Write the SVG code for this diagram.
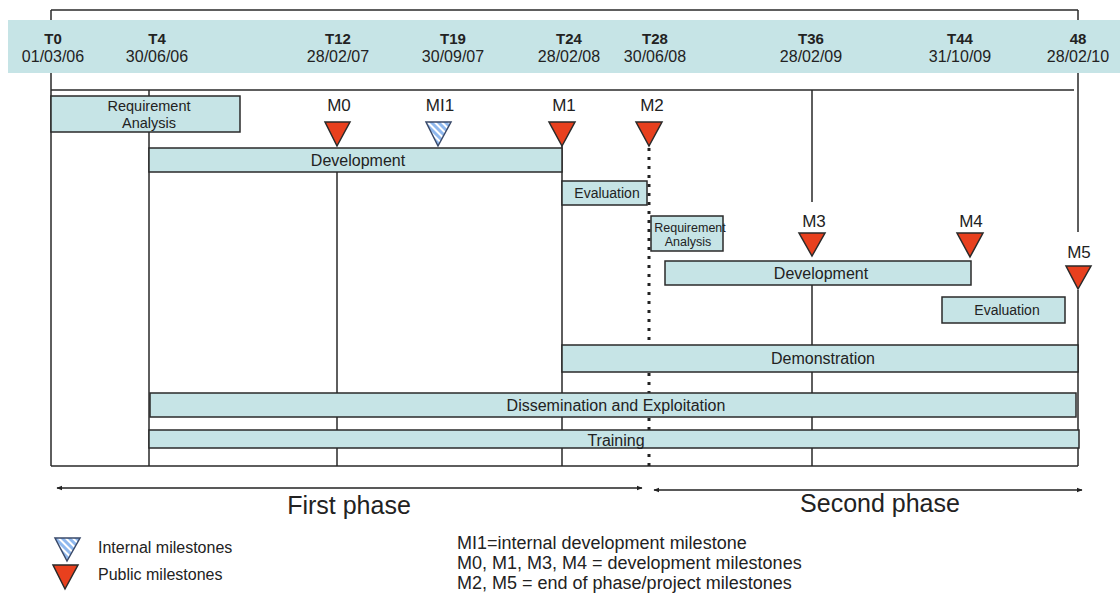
<svg xmlns="http://www.w3.org/2000/svg" width="1120" height="594" viewBox="0 0 1120 594">
<style>
text{font-family:"Liberation Sans",Arial,sans-serif;fill:#222}
.tl{font-size:15px;font-weight:bold;text-anchor:middle}
.dt{font-size:16px;text-anchor:middle}
.bar{fill:#c6e4e6;stroke:#2a2a2a;stroke-width:1.5}
.bl{font-size:16px;text-anchor:middle}
.grid{stroke:#2a2a2a;stroke-width:1.5;fill:none}
.ms{fill:#e8401e;stroke:#2a2a2a;stroke-width:1.5}
.msi{fill:url(#hatch);stroke:#3a4a6a;stroke-width:1.5}
.ml{font-size:17px;text-anchor:middle}
.ph{font-size:25px;text-anchor:middle}
.lg{font-size:16px}
.lg2{font-size:18px}
</style>
<defs>
<pattern id="hatch" width="5" height="5" patternUnits="userSpaceOnUse" patternTransform="rotate(-45)">
<rect width="5" height="5" fill="#8fb8ee"/>
<rect width="2" height="5" fill="#ffffff"/>
</pattern>
<marker id="ah" viewBox="0 0 10 10" refX="9" refY="5" markerWidth="6" markerHeight="6" orient="auto-start-reverse" markerUnits="userSpaceOnUse">
<path d="M0,1 L10,5 L0,9 z" fill="#222"/>
</marker>
</defs>

<g id="grid">
<path class="grid" d="M51,10 H1078 M51,10 V466 M1078,10 V232 M1078,290 V466 M51,466 H1078 M51,90 H1074 M149,90 V466 M337,172 V466 M562,146 V466 M812,90 V202 M812,285 V466"/>
<line x1="649" y1="148" x2="649" y2="466" stroke="#222" stroke-width="3" stroke-dasharray="3,6"/>
</g>

<g id="timeline">
<rect x="8" y="20" width="1112" height="53" fill="#c6e4e6"/>
<text class="tl" x="53" y="44">T0</text><text class="dt" x="53" y="62">01/03/06</text>
<text class="tl" x="157" y="44">T4</text><text class="dt" x="157" y="62">30/06/06</text>
<text class="tl" x="338" y="44">T12</text><text class="dt" x="338" y="62">28/02/07</text>
<text class="tl" x="453" y="44">T19</text><text class="dt" x="453" y="62">30/09/07</text>
<text class="tl" x="569" y="44">T24</text><text class="dt" x="569" y="62">28/02/08</text>
<text class="tl" x="655" y="44">T28</text><text class="dt" x="655" y="62">30/06/08</text>
<text class="tl" x="811" y="44">T36</text><text class="dt" x="811" y="62">28/02/09</text>
<text class="tl" x="960" y="44">T44</text><text class="dt" x="960" y="62">31/10/09</text>
<text class="tl" x="1078" y="44">48</text><text class="dt" x="1078" y="62">28/02/10</text>
</g>

<g id="req1"><rect class="bar" x="51" y="96" width="189" height="36"/>
<text class="bl" x="149" y="111" style="font-size:14.5px">Requirement</text><text class="bl" x="149" y="128" style="font-size:14.5px">Analysis</text></g>
<g id="dev1"><rect class="bar" x="149" y="148" width="413" height="24"/><text class="bl" x="358" y="166">Development</text></g>
<g id="eval1"><rect class="bar" x="562" y="181" width="85" height="24"/><text class="bl" x="607" y="198" style="font-size:14px">Evaluation</text></g>
<g id="req2"><rect class="bar" x="651" y="216" width="72" height="35"/>
<text class="bl" x="690" y="232" style="font-size:12.5px">Requirement</text><text class="bl" x="688" y="246" style="font-size:12.5px">Analysis</text></g>
<g id="dev2"><rect class="bar" x="665" y="261" width="306" height="24"/><text class="bl" x="821" y="279">Development</text></g>
<g id="eval2"><rect class="bar" x="942" y="297" width="123" height="26"/><text class="bl" x="1007" y="315" style="font-size:14px">Evaluation</text></g>
<g id="demo"><rect class="bar" x="562" y="345" width="516" height="27"/><text class="bl" x="823" y="364">Demonstration</text></g>
<g id="diss"><rect class="bar" x="150" y="393" width="926" height="24"/><text class="bl" x="616" y="411">Dissemination and Exploitation</text></g>
<g id="train"><rect class="bar" x="149" y="430" width="930" height="18"/><text class="bl" x="616" y="446">Training</text></g>

<g id="M0"><text class="ml" x="339" y="111">M0</text><path class="ms" d="M325,122 H350 L337,146 Z"/></g>
<g id="MI1"><text class="ml" x="440" y="111">MI1</text><path class="msi" d="M426,122 H451 L438,146 Z"/></g>
<g id="M1"><text class="ml" x="564" y="111">M1</text><path class="ms" d="M549,122 H575 L562,146 Z"/></g>
<g id="M2"><text class="ml" x="652" y="111">M2</text><path class="ms" d="M636,122 H662 L649,146 Z"/></g>
<g id="M3"><text class="ml" x="814" y="227">M3</text><path class="ms" d="M799,233 H825 L812,256 Z"/></g>
<g id="M4"><text class="ml" x="971" y="227">M4</text><path class="ms" d="M957,233 H983 L970,257 Z"/></g>
<g id="M5"><text class="ml" x="1079" y="258">M5</text><path class="ms" d="M1066,266 H1091 L1078,289 Z"/></g>

<g id="phases">
<line x1="57" y1="488" x2="642" y2="488" stroke="#222" stroke-width="1.5" marker-start="url(#ah)" marker-end="url(#ah)"/>
<line x1="654" y1="490" x2="1082" y2="490" stroke="#222" stroke-width="1.5" marker-start="url(#ah)" marker-end="url(#ah)"/>
<text class="ph" x="349" y="514">First phase</text>
<text class="ph" x="880" y="512">Second phase</text>
</g>

<g id="legend">
<path class="msi" d="M55,538 H80 L67,561 Z"/>
<path class="ms" d="M53,565 H78 L65,589 Z"/>
<text class="lg" x="98" y="553">Internal milestones</text>
<text class="lg" x="98" y="580">Public milestones</text>
<text class="lg2" x="457" y="549">MI1=internal development milestone</text>
<text class="lg2" x="457" y="569">M0, M1, M3, M4 = development milestones</text>
<text class="lg2" x="457" y="589">M2, M5 = end of phase/project milestones</text>
</g>
</svg>
